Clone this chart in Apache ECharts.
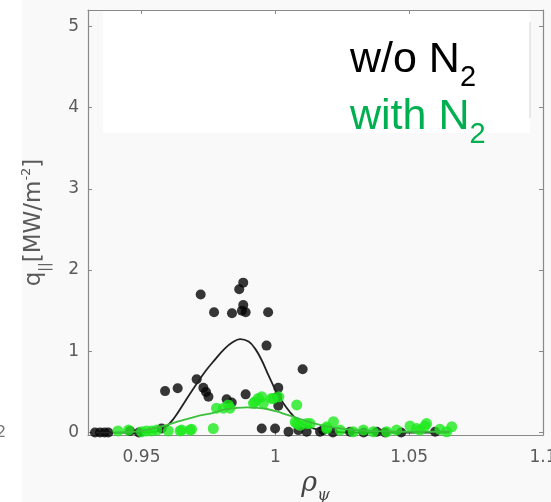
<!DOCTYPE html>
<html>
<head>
<meta charset="utf-8">
<script src="https://cdn.jsdelivr.net/npm/echarts@6/dist/echarts.min.js"></script>
<style>
  html, body { margin: 0; padding: 0; background: #ffffff; }
  #chart { width: 551px; height: 502px; }
</style>
</head>
<body>
<div id="chart"></div>
<script>
// Axis ticks
const xTicks = [0.95, 1, 1.05, 1.1];
const yTicks = [0, 1, 2, 3, 4, 5];

// Measured heat-flux points, without nitrogen seeding [rho_psi, q_par]
const blackPts = [
  [0.9721, 1.70], [0.9880, 1.845], [0.9865, 1.763], [0.9771, 1.48], [0.9838, 1.468],
  [0.9880, 1.57], [0.9889, 1.48], [0.9875, 1.50], [0.9973, 1.48], [0.9967, 1.07],
  [0.9588, 0.51], [0.9635, 0.545], [0.9706, 0.655], [0.9731, 0.55], [0.9741, 0.50],
  [0.9750, 0.44], [0.9818, 0.41], [0.9837, 0.37], [0.9889, 0.47], [1.0102, 0.78],
  [1.0011, 0.55], [1.0007, 0.44], [1.0011, 0.33],
  [0.9326, 0.00], [0.9345, 0.00], [0.9362, 0.00], [0.9376, 0.00], [0.9457, 0.02],
  [0.9490, 0.00], [0.9575, 0.05], [0.9949, 0.05], [0.9999, 0.05], [1.0049, 0.01],
  [1.0086, 0.03], [1.0117, 0.01], [1.0167, 0.01], [1.0179, 0.03], [1.0215, 0.00],
  [1.0279, 0.01], [1.0330, 0.00], [1.0379, 0.01], [1.0410, 0.00], [1.0470, 0.00],
  [1.0597, 0.01]
];

// Measured heat-flux points, with nitrogen seeding
const greenPts = [
  [0.9412, 0.02], [0.9451, 0.03], [0.9500, 0.01], [0.9519, 0.02], [0.9538, 0.02],
  [0.9557, 0.03], [0.9600, 0.02], [0.9644, 0.02], [0.9650, 0.03], [0.9681, 0.03],
  [0.9687, 0.04], [0.9768, 0.05],
  [0.9780, 0.30], [0.9806, 0.30], [0.9824, 0.34], [0.9831, 0.30], [0.9918, 0.36],
  [0.9924, 0.38], [0.9936, 0.42], [0.9949, 0.44], [0.9955, 0.36], [0.9986, 0.42],
  [0.9992, 0.42], [1.0013, 0.44], [1.0080, 0.34],
  [1.0074, 0.13], [1.0080, 0.11], [1.0092, 0.09], [1.0117, 0.11], [1.0130, 0.11],
  [1.0192, 0.07], [1.0192, 0.05], [1.0217, 0.134], [1.0242, 0.03], [1.0291, 0.01],
  [1.0329, 0.03], [1.0366, 0.01], [1.0416, 0.01], [1.0453, 0.03], [1.0503, 0.08],
  [1.0528, 0.05], [1.0540, 0.03], [1.0559, 0.08], [1.0565, 0.11], [1.0615, 0.04],
  [1.0640, 0.01], [1.0659, 0.07]
];

// Fitted profiles
const blackFit = [
  [0.933, 0.0], [0.950, 0.0], [0.955, 0.01], [0.9588, 0.06], [0.962, 0.17],
  [0.9662, 0.38], [0.9706, 0.60], [0.974, 0.76], [0.9775, 0.90], [0.981, 1.03],
  [0.984, 1.11], [0.9868, 1.15], [0.990, 1.12], [0.9925, 1.03], [0.9949, 0.89],
  [0.9975, 0.70], [1.0004, 0.50], [1.003, 0.36], [1.0055, 0.25], [1.008, 0.16],
  [1.011, 0.09], [1.0154, 0.04], [1.020, 0.015], [1.030, 0.0], [1.065, 0.0]
];
const greenFit = [
  [0.940, 0.0], [0.950, 0.02], [0.958, 0.08], [0.964, 0.14], [0.9706, 0.20],
  [0.9765, 0.24], [0.9805, 0.28], [0.985, 0.30], [0.9893, 0.31], [0.993, 0.305],
  [0.9968, 0.29], [1.0005, 0.26], [1.0042, 0.22], [1.009, 0.17], [1.0141, 0.115],
  [1.0204, 0.07], [1.027, 0.04], [1.035, 0.02], [1.045, 0.01], [1.065, 0.01]
];

const frameColor = '#8a8a8a';
const labelColor = '#5a5a5a';
const tickFont = 'DejaVu Sans';

function fmtX(v) {
  return String(+v.toFixed(2));
}

const chart = echarts.init(document.getElementById('chart'), null, { renderer: 'canvas' });

const boxAxisX = (pos, withLabels) => ({
  type: 'value',
  position: pos,
  min: 0.93,
  max: 1.1,
  axisLine: { show: true, onZero: false, lineStyle: { color: frameColor, width: 1.2 } },
  axisTick: { show: true, inside: true, length: 4, customValues: xTicks, lineStyle: { color: frameColor } },
  axisLabel: withLabels ? {
    show: true, customValues: xTicks, formatter: fmtX, margin: 14,
    color: labelColor, fontFamily: tickFont, fontSize: 17
  } : { show: false },
  splitLine: { show: false }
});

const boxAxisY = (pos, withLabels) => ({
  type: 'value',
  position: pos,
  min: -0.03,
  max: 5.2,
  axisLine: { show: true, onZero: false, lineStyle: { color: frameColor, width: 1.2 } },
  axisTick: { show: true, inside: true, length: 4, customValues: yTicks, lineStyle: { color: frameColor } },
  axisLabel: withLabels ? {
    show: true, customValues: yTicks, margin: 9,
    color: labelColor, fontFamily: tickFont, fontSize: 17
  } : { show: false },
  splitLine: { show: false }
});

const xMain = boxAxisX('bottom', true);
xMain.name = '{r|ρ}{s|ψ}';
xMain.nameLocation = 'middle';
xMain.nameGap = 31;
xMain.nameTextStyle = {
  rich: {
    r: { fontFamily: 'DejaVu Serif', fontStyle: 'italic', fontSize: 27, color: '#444', lineHeight: 30 },
    s: { fontFamily: 'DejaVu Serif', fontStyle: 'italic', fontSize: 16, color: '#444', lineHeight: 14, verticalAlign: 'bottom', padding: [0, 0, -4, 0] }
  }
};

const yMain = boxAxisY('left', true);
yMain.name = '{q|q}{s|||}{b|[MW/m}{p|-2}{b|]}';
yMain.nameLocation = 'middle';
yMain.nameRotate = 90;
yMain.nameGap = 40;
yMain.nameTextStyle = {
  rich: {
    q: { fontFamily: tickFont, fontSize: 23, color: labelColor, lineHeight: 28 },
    b: { fontFamily: tickFont, fontSize: 23, color: labelColor, lineHeight: 28 },
    s: { fontFamily: tickFont, fontSize: 14, color: labelColor, lineHeight: 14, verticalAlign: 'bottom', padding: [0, 0, -4, 0] },
    p: { fontFamily: tickFont, fontSize: 13, color: labelColor, lineHeight: 14, verticalAlign: 'top' }
  }
};

chart.setOption({
  backgroundColor: '#f9f9f9',
  animation: false,
  grid: { left: 88, right: 8, top: 10, bottom: 67, outerBoundsMode: 'none', containLabel: false },
  xAxis: [xMain, boxAxisX('top', false)],
  yAxis: [yMain, boxAxisY('right', false)],
  graphic: [
    // white strip on the far left of the figure
    { type: 'rect', z: -10, silent: true, shape: { x: 0, y: 0, width: 22, height: 502 }, style: { fill: '#ffffff' } },
    // text box behind the legend labels
    { type: 'rect', z: -5, silent: true, shape: { x: 103, y: 11, width: 427, height: 122 }, style: { fill: '#ffffff' } },
    { type: 'line', z: -4, silent: true, shape: { x1: 530, y1: 22, x2: 530, y2: 118 }, style: { stroke: '#d6d6d6', lineWidth: 1 } },
    // fragment of a neighbouring panel's label
    { type: 'text', z: 1, silent: true, style: { x: -4, y: 433, text: '2', fontFamily: tickFont, fontSize: 16, fill: '#777', verticalAlign: 'middle' } },
    // legend labels
    {
      type: 'text', z: 100, silent: true,
      style: {
        x: 350, y: 37, text: '{m|w/o N}{s|2}', verticalAlign: 'top',
        rich: {
          m: { fontFamily: 'Liberation Sans', fontSize: 43, fill: '#000000', lineHeight: 45, verticalAlign: 'bottom' },
          s: { fontFamily: 'Liberation Sans', fontSize: 29, fill: '#000000', lineHeight: 20, verticalAlign: 'bottom', padding: [0, 0, -10, 0] }
        }
      }
    },
    {
      type: 'text', z: 100, silent: true,
      style: {
        x: 350, y: 94, text: '{m|with N}{s|2}', verticalAlign: 'top',
        rich: {
          m: { fontFamily: 'Liberation Sans', fontSize: 43, fill: '#00b050', lineHeight: 45, verticalAlign: 'bottom' },
          s: { fontFamily: 'Liberation Sans', fontSize: 29, fill: '#00b050', lineHeight: 20, verticalAlign: 'bottom', padding: [0, 0, -10, 0] }
        }
      }
    }
  ],
  series: [
    {
      name: 'w/o N2', type: 'scatter', data: blackPts, symbolSize: 10, z: 3,
      itemStyle: { color: '#050505' }
    },
    {
      name: 'w/o N2 fit', type: 'line', data: blackFit, smooth: 0.4, showSymbol: false, z: 4,
      lineStyle: { color: '#222222', width: 1.8 }
    },
    {
      name: 'with N2', type: 'scatter', data: greenPts, symbolSize: 11, z: 5,
      itemStyle: { color: '#1eea1e' }
    },
    {
      name: 'with N2 fit', type: 'line', data: greenFit, smooth: 0.4, showSymbol: false, z: 6,
      lineStyle: { color: '#3cc03c', width: 1.8 }
    }
  ]
});
</script>
</body>
</html>
